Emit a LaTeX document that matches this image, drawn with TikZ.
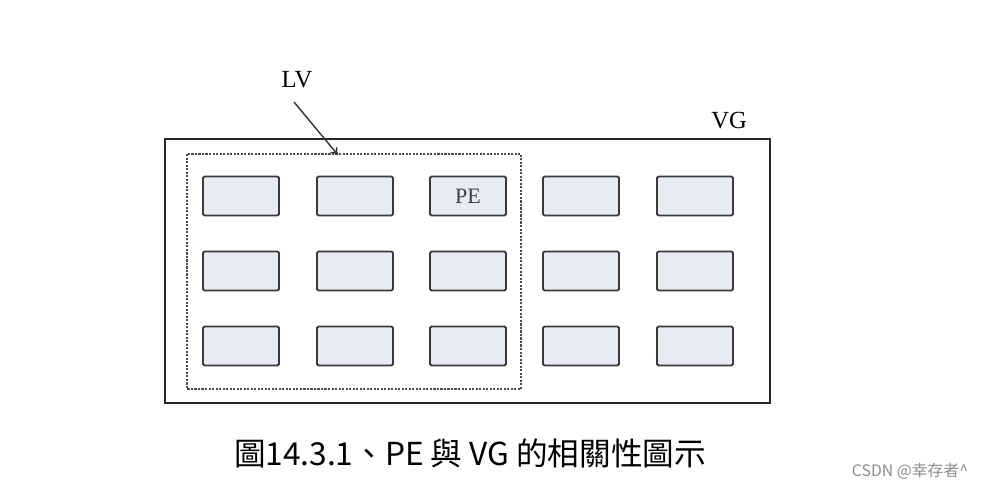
\documentclass[tikz,border=0pt]{standalone}
\usepackage{fontspec}
\setmainfont{Liberation Serif}
\newfontfamily\cjk{Noto Sans CJK TC}
\usetikzlibrary{arrows.meta}
\definecolor{pefill}{HTML}{E8EBF4}
\definecolor{peline}{HTML}{3A3A3A}
\begin{document}
\begin{tikzpicture}[x=0.02cm,y=-0.02cm,
      pe/.style={draw=peline,line width=1.1pt,rounded corners=0.8pt,fill=pefill,
        minimum width=1.52cm,minimum height=0.78cm,inner sep=0pt},
      vg/.style={draw=black!85,line width=0.9pt},
      lv/.style={draw=black!70,dash pattern=on 1.2pt off 0.8pt,line width=0.9pt},
      tag/.style={font=\fontsize{14}{16}\selectfont,inner sep=0pt}]
    \useasboundingbox (0,0) rectangle (982,490);
    % volume group and logical volume
    \draw[vg] (165,139) rectangle (770,403);
    \draw[lv] (187,154) rectangle (521,389);
    % physical extents, three rows of five
    \foreach \y/\r in {196/1,271/2,346/3}{
      \foreach \x/\c in {241/1,355/2,468/3,581/4,695/5}{
        \node[pe] (p\r\c) at (\x,\y) {};}
    }
    \node[font=\fontsize{12.5}{14}\selectfont,text=black!75] at (p13) {PE};
    \node[tag] (lv) at (297,80) {LV};
    \coordinate (lvtop) at (338,155);
    \draw[-{To[length=4pt,width=5pt]},line width=0.8pt,black!80] (294,102) -- (lvtop);
    \node[tag] (vg) at (729,121) {VG};
    % caption
    \node[font=\cjk\fontsize{18}{20}\selectfont,inner sep=0pt] (cap) at (470,453)
      {圖14.3.1、PE 與 VG 的相關性圖示};
    \node[font=\cjk\fontsize{9}{10}\selectfont,text=black!45,inner sep=0pt] (mark) at (910,471)
      {CSDN @幸存者\^{}};
  \end{tikzpicture}
\end{document}
